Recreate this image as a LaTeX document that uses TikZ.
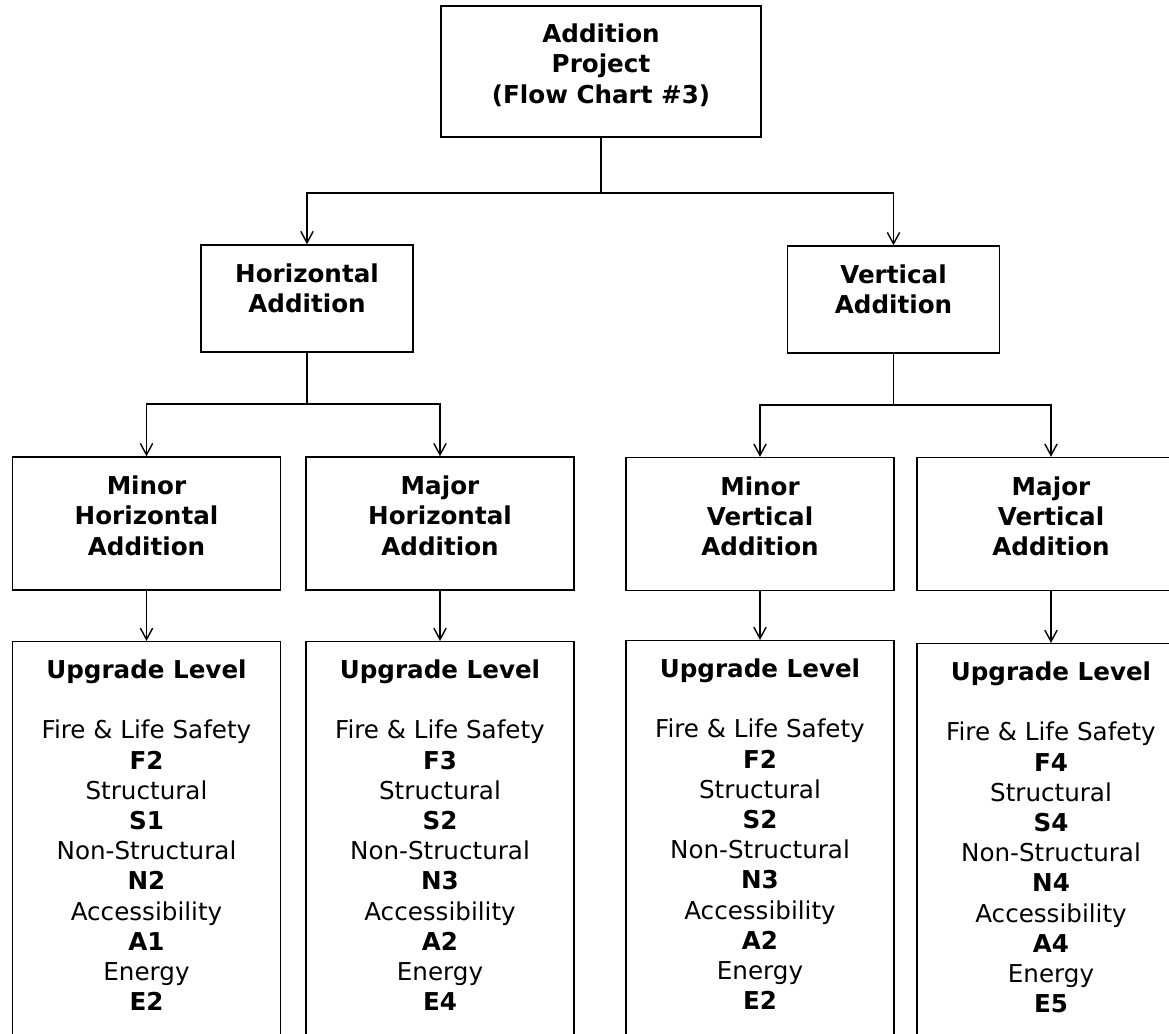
\documentclass[tikz,border=0pt]{standalone}
\usepackage{fontspec}
\setmainfont{DejaVu Sans}
\usepackage{tikz}
\usetikzlibrary{arrows.meta}

\begin{document}
\begin{tikzpicture}[
    component/.style={rectangle, draw=black, line width=0.8pt, align=center, text depth=0.32cm, font=\fontsize{14}{17.2}\selectfont\bfseries},
    level/.style={rectangle, draw=black, line width=0.8pt, align=center, anchor=north, minimum width=5.36cm, inner ysep=0.36cm, font=\fontsize{14}{17.2}\selectfont},
    arrow/.style={-{Straight Barb[length=6.5pt,width=7pt]}, line width=0.8pt}
]
\useasboundingbox (0,0) rectangle (23.38,-20.68);

% Top project box
\node[component, minimum width=6.4cm, minimum height=2.62cm] at (12.02,-1.43) (project) {Addition\\Project\\(Flow Chart \#3)};

% Addition types
\node[component, minimum width=4.24cm, minimum height=2.14cm, text depth=0.4cm] at (6.14,-5.97) (horiz) {Horizontal\\Addition};
\node[component, minimum width=4.24cm, minimum height=2.14cm, text depth=0.4cm] at (17.87,-5.99) (vert) {Vertical\\Addition};

% Minor / major additions
\node[component, minimum width=5.36cm, minimum height=2.66cm] at (2.93,-10.47) (minorh) {Minor\\Horizontal\\Addition};
\node[component, minimum width=5.36cm, minimum height=2.66cm] at (8.8,-10.47) (majorh) {Major\\Horizontal\\Addition};
\node[component, minimum width=5.36cm, minimum height=2.66cm] at (15.2,-10.48) (minorv) {Minor\\Vertical\\Addition};
\node[component, minimum width=5.36cm, minimum height=2.66cm] at (21.02,-10.48) (majorv) {Major\\Vertical\\Addition};

% Upgrade levels
\node[level] at (2.93,-12.82) (upminorh) {\textbf{Upgrade Level}\\ \\Fire \& Life Safety\\\textbf{F2}\\Structural\\\textbf{S1}\\Non-Structural\\\textbf{N2}\\Accessibility\\\textbf{A1}\\Energy\\\textbf{E2}\\ \\ };
\node[level] at (8.8,-12.82) (upmajorh) {\textbf{Upgrade Level}\\ \\Fire \& Life Safety\\\textbf{F3}\\Structural\\\textbf{S2}\\Non-Structural\\\textbf{N3}\\Accessibility\\\textbf{A2}\\Energy\\\textbf{E4}\\ \\ };
\node[level] at (15.2,-12.8) (upminorv) {\textbf{Upgrade Level}\\ \\Fire \& Life Safety\\\textbf{F2}\\Structural\\\textbf{S2}\\Non-Structural\\\textbf{N3}\\Accessibility\\\textbf{A2}\\Energy\\\textbf{E2}\\ \\ };
\node[level] at (21.02,-12.86) (upmajorv) {\textbf{Upgrade Level}\\ \\Fire \& Life Safety\\\textbf{F4}\\Structural\\\textbf{S4}\\Non-Structural\\\textbf{N4}\\Accessibility\\\textbf{A4}\\Energy\\\textbf{E5}\\ \\ };

% Split points
\coordinate (split1) at (12.02,-3.86);
\coordinate (split2) at (6.14,-8.08);
\coordinate (split3) at (17.87,-8.1);

% Arrows from project
\draw[line width=0.8pt] (project) -- (split1);
\draw[arrow] (split1) -| (horiz);
\draw[arrow] (split1) -| (vert);

% Arrows from addition types
\draw[line width=0.8pt] (horiz) -- (split2);
\draw[arrow] (split2) -| (minorh);
\draw[arrow] (split2) -| (majorh);
\draw[line width=0.8pt] (vert) -- (split3);
\draw[arrow] (split3) -| (minorv);
\draw[arrow] (split3) -| (majorv);

% Arrows to upgrade levels
\draw[arrow] (minorh) -- (upminorh);
\draw[arrow] (majorh) -- (upmajorh);
\draw[arrow] (minorv) -- (upminorv);
\draw[arrow] (majorv) -- (upmajorv);

\end{tikzpicture}
\end{document}
